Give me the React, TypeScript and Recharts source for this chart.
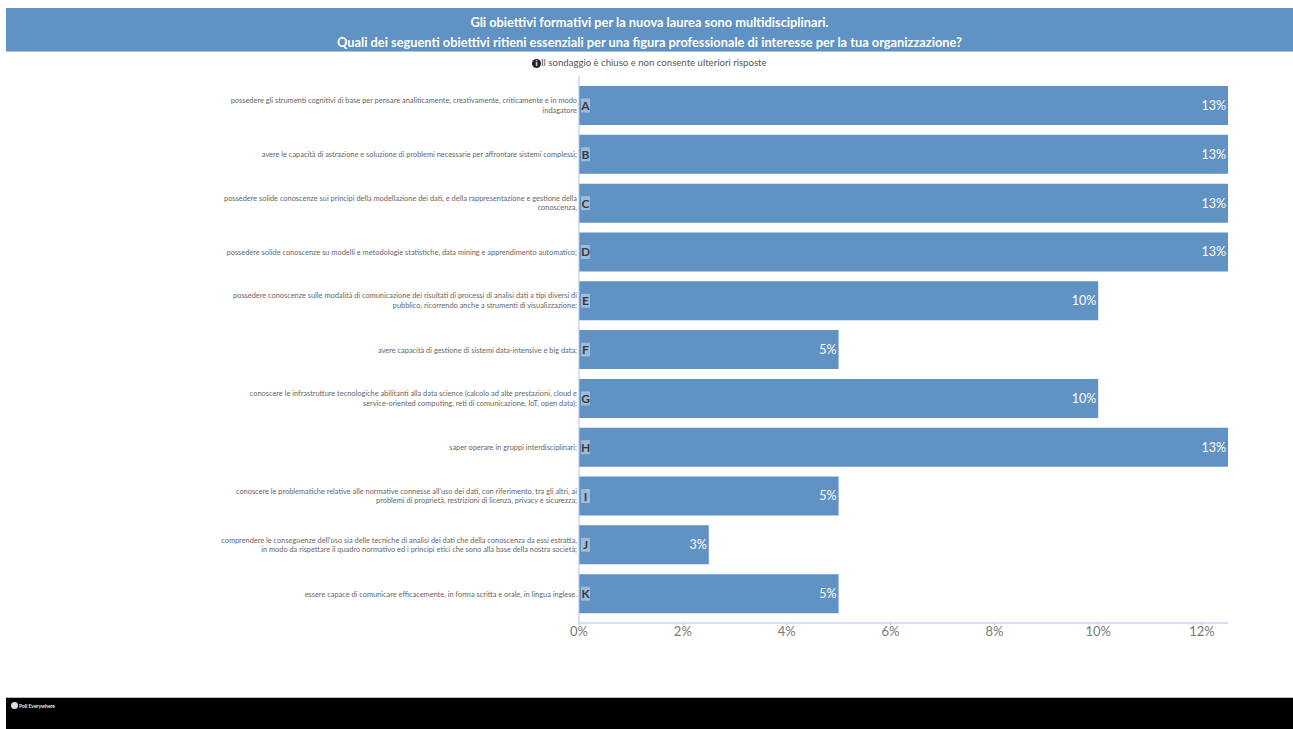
import { BarChart, Bar, XAxis, YAxis, LabelList } from "recharts";

const letters = ["A", "B", "C", "D", "E", "F", "G", "H", "I", "J", "K"];

const options = [
  ["possedere gli strumenti cognitivi di base per pensare analiticamente, creativamente, criticamente e in modo", "indagatore"],
  ["avere le capacità di astrazione e soluzione di problemi necessarie per affrontare sistemi complessi;"],
  ["possedere solide conoscenze sui principi della modellazione dei dati, e della rappresentazione e gestione della", "conoscenza,"],
  ["possedere solide conoscenze su modelli e metodologie statistiche, data mining e apprendimento automatico;"],
  ["possedere conoscenze sulle modalità di comunicazione dei risultati di processi di analisi dati a tipi diversi di", "pubblico, ricorrendo anche a strumenti di visualizzazione;"],
  ["avere capacità di gestione di sistemi data-intensive e big data;"],
  ["conoscere le infrastrutture tecnologiche abilitanti alla data science (calcolo ad alte prestazioni, cloud e", "service-oriented computing, reti di comunicazione, IoT, open data);"],
  ["saper operare in gruppi interdisciplinari;"],
  ["conoscere le problematiche relative alle normative connesse all'uso dei dati, con riferimento, tra gli altri, ai", "problemi di proprietà, restrizioni di licenza, privacy e sicurezza;"],
  ["comprendere le conseguenze dell'uso sia delle tecniche di analisi dei dati che della conoscenza da essi estratta,", "in modo da rispettare il quadro normativo ed i principi etici che sono alla base della nostra società;"],
  ["essere capace di comunicare efficacemente, in forma scritta e orale, in lingua inglese."],
];

const shares = [12.5, 12.5, 12.5, 12.5, 10, 5, 10, 12.5, 5, 2.5, 5];
const xTicks = [0, 2, 4, 6, 8, 10, 12];

const data = letters.map((letter, i) => ({ letter, share: shares[i] }));

const FONT = "Lato, 'Open Sans', sans-serif";
const BLUE = "#6092c4";
const AXIS = "#aec6e4";

const OptionTick = ({ x, y, payload }: any) => {
  const lines = options[letters.indexOf(payload.value)];
  const top = y + 2.5 - (lines.length - 1) * 4.75 + (lines.length === 1 ? 0.5 : 0);
  return (
    <text textAnchor="end" fontSize={7.4} fill="#666" fontFamily={FONT}>
      {lines.map((line, i) => (
        <tspan key={i} x={x} y={top + i * 9.5}>
          {line}
        </tspan>
      ))}
    </text>
  );
};

// letter chip sitting at the start of each bar
const LetterChip = ({ x, y, height, value }: any) => (
  <g>
    <rect x={x + 2} y={y + height / 2 - 7} width={9} height={14} fill="#9fbbdb" />
    <text
      x={x + 6.5}
      y={y + height / 2 + 4.5}
      textAnchor="middle"
      fontSize={12}
      fontWeight={700}
      fill="#3a3a3a"
      fontFamily={FONT}
    >
      {value}
    </text>
  </g>
);

export default function App() {
  return (
    <div style={{ position: "absolute", left: 0, top: 0, width: 1293, height: 729, background: "#fff", overflow: "hidden", fontFamily: FONT }}>
      <div
        style={{
          position: "absolute",
          left: 6,
          top: 8,
          width: 1287,
          height: 44,
          background: BLUE,
          borderBottom: "1px solid #a5c3e6",
          color: "#fff",
          fontWeight: 700,
          fontSize: 12.8,
          lineHeight: "20px",
          textAlign: "center",
          paddingTop: 4,
          boxSizing: "border-box",
        }}
      >
        <div>Gli obiettivi formativi per la nuova laurea sono multidisciplinari.</div>
        <div>Quali dei seguenti obiettivi ritieni essenziali per una figura professionale di interesse per la tua organizzazione?</div>
      </div>

      <div style={{ position: "absolute", left: 532, top: 56, height: 14, lineHeight: "14px", fontSize: 9.6, color: "#555", whiteSpace: "nowrap" }}>
        <span
          style={{
            display: "inline-block",
            width: 9,
            height: 9,
            lineHeight: "9px",
            borderRadius: "50%",
            background: "#222",
            color: "#fff",
            fontSize: 8,
            fontWeight: 700,
            textAlign: "center",
            verticalAlign: "0px",
          }}
        >
          i
        </span>
        Il sondaggio è chiuso e non consente ulteriori risposte
      </div>

      <div style={{ position: "absolute", left: 0, top: 0 }}>
        <BarChart
          width={1293}
          height={660}
          data={data}
          layout="vertical"
          margin={{ top: 76, right: 65, bottom: 0, left: 0 }}
          barCategoryGap={5}
        >
          <XAxis
            type="number"
            domain={[0, 12.5]}
            ticks={xTicks}
            height={37}
            tickSize={2}
            tickMargin={2}
            tickFormatter={(v) => `${v}%`}
            stroke={AXIS}
            tick={{ fontSize: 13, fill: "#777", fontFamily: FONT }}
          />
          <YAxis
            type="category"
            dataKey="letter"
            width={579}
            padding={{ top: 5, bottom: 5 }}
            tickLine={false}
            tickSize={0}
            tickMargin={2}
            stroke={AXIS}
            tick={<OptionTick />}
            interval={0}
          />
          <Bar dataKey="share" fill={BLUE} barSize={39} isAnimationActive={false}>
            <LabelList
              dataKey="share"
              position="insideRight"
              offset={2}
              formatter={(v: any) => `${Math.round(v)}%`}
              style={{ fontSize: 12.5, fill: "#fff", fontFamily: FONT }}
            />
            <LabelList dataKey="letter" content={<LetterChip />} />
          </Bar>
        </BarChart>
      </div>

      <div style={{ position: "absolute", left: 6, top: 697, width: 1287, height: 32, background: "#000", borderTop: "1px solid #bbb", boxSizing: "border-box" }}>
        <div style={{ position: "absolute", left: 5, top: 4, color: "#eee", fontSize: 5, fontWeight: 700, lineHeight: "8px", whiteSpace: "nowrap" }}>
          <span style={{ display: "inline-block", width: 7, height: 7, borderRadius: "50%", background: "#ddd", marginRight: 1, verticalAlign: "-1px" }} />
          Poll Everywhere
        </div>
      </div>
    </div>
  );
}
